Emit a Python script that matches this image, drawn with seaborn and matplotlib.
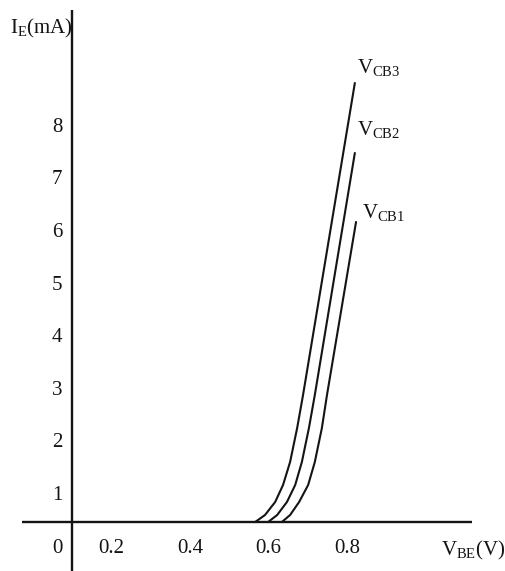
import matplotlib
matplotlib.use("Agg")
import matplotlib.pyplot as plt
import seaborn as sns
import pandas as pd

# ---- data (tick-label units) ----
vbe_cb3 = [0.566, 0.591, 0.617, 0.637, 0.655, 0.673, 0.688, 0.820]
ie_cb3 = [0.494, 0.627, 0.875, 1.198, 1.635, 2.281, 2.909, 8.840]
vbe_cb2 = [0.599, 0.622, 0.647, 0.668, 0.685, 0.703, 0.718, 0.820]
ie_cb2 = [0.494, 0.627, 0.875, 1.198, 1.635, 2.281, 2.909, 7.510]
vbe_cb1 = [0.634, 0.655, 0.678, 0.701, 0.718, 0.736, 0.749, 0.823]
ie_cb1 = [0.494, 0.627, 0.875, 1.198, 1.635, 2.281, 2.909, 6.198]
series_names = ["VCB3", "VCB2", "VCB1"]
series_labels = [r"$\mathrm{V_{CB3}}$", r"$\mathrm{V_{CB2}}$", r"$\mathrm{V_{CB1}}$"]
x_tick_values = [0.2, 0.4, 0.6, 0.8]
x_tick_labels = ["0.2", "0.4", "0.6", "0.8"]
y_tick_values = [1, 2, 3, 4, 5, 6, 7, 8]
y_tick_labels = ["1", "2", "3", "4", "5", "6", "7", "8"]
origin_label = "0"
x_axis_label = r"$\mathrm{V_{BE}(V)}$"
y_axis_label = r"$\mathrm{I_E(mA)}$"

sns.set_style("white")
plt.rcParams["font.family"] = ["Liberation Serif", "DejaVu Serif"]
plt.rcParams["mathtext.fontset"] = "custom"
plt.rcParams["mathtext.rm"] = "Liberation Serif"
plt.rcParams["mathtext.it"] = "Liberation Serif:italic"
plt.rcParams["mathtext.bf"] = "Liberation Serif:bold"

df = pd.concat([
    pd.DataFrame({"VBE": vbe_cb3, "IE": ie_cb3, "curve": series_names[0]}),
    pd.DataFrame({"VBE": vbe_cb2, "IE": ie_cb2, "curve": series_names[1]}),
    pd.DataFrame({"VBE": vbe_cb1, "IE": ie_cb1, "curve": series_names[2]}),
], ignore_index=True)

fig = plt.figure(figsize=(5.06, 5.71), dpi=100)
ax = fig.add_axes([0, 0, 1, 1])
ink = "#141414"

sns.lineplot(data=df, x="VBE", y="IE", hue="curve", units="curve", estimator=None,
             sort=False, palette=[ink, ink, ink], linewidth=1.5, legend=False, ax=ax)
for ln in ax.get_lines():
    ln.set_solid_joinstyle("round")

ax.set_xlim(-0.0841, 1.2051)
ax.set_ylim(-0.437, 10.418)
ax.axis("off")

# axes lines
ax.plot([0.0994, 0.0994], [-0.437, 10.23], color=ink, lw=1.7, solid_capstyle="butt")
ax.plot([-0.028, 1.118], [0.494, 0.494], color=ink, lw=1.7, solid_capstyle="butt")

fs = 15
label_x = 0.061
for v, t in zip(x_tick_values, x_tick_labels):
    ax.text(v, 0.0, t, ha="center", va="center", fontsize=fs, color=ink)
for v, t in zip(y_tick_values, y_tick_labels):
    ax.text(label_x, v, t, ha="center", va="center", fontsize=fs, color=ink)
ax.text(label_x, 0.0, origin_label, ha="center", va="center", fontsize=fs, color=ink)

ax.text(1.039, -0.133, x_axis_label, ha="left", va="baseline", fontsize=fs, color=ink)
ax.text(-0.0586, 9.79, y_axis_label, ha="left", va="baseline", fontsize=fs, color=ink)

label_pos = [(0.826, 9.03), (0.826, 7.85), (0.838, 6.27)]
for (lx, ly), t in zip(label_pos, series_labels):
    ax.text(lx, ly, t, ha="left", va="baseline", fontsize=fs, color=ink)

fig.savefig("out.png", dpi=100)
